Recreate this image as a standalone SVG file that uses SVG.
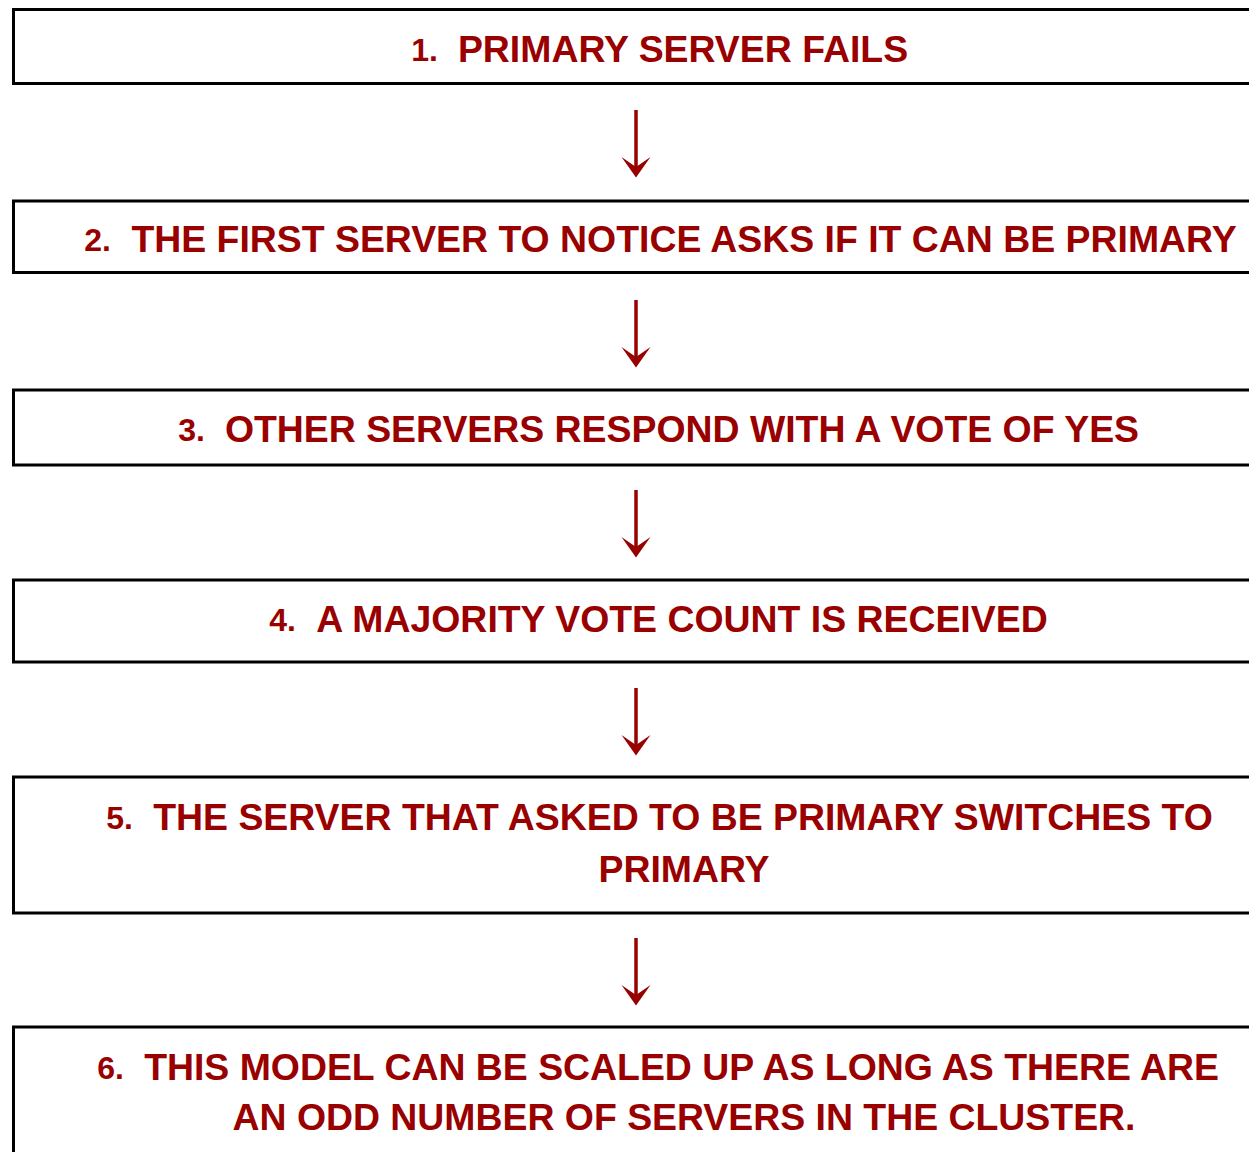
<svg xmlns="http://www.w3.org/2000/svg" width="1249" height="1152" viewBox="0 0 1249 1152">
  <style>
    .box { fill: #ffffff; stroke: #000000; stroke-width: 3; }
    .txt { font-family: "Liberation Sans", Arial, sans-serif; font-weight: bold; font-size: 37.4px; fill: #990000; text-anchor: middle; }
    .num { font-family: "Liberation Sans", Arial, sans-serif; font-weight: bold; font-size: 32px; fill: #990000; text-anchor: end; }
    .shaft { stroke: #990000; stroke-width: 3.5; fill: none; }
    .head { fill: #990000; }
  </style>
  <defs>
    <!-- downward arrow, origin at the top of the shaft -->
    <g id="arrowDown">
      <line class="shaft" x1="0" y1="0" x2="0" y2="62"/>
      <path class="head" d="M-14.5,47 L0,67.5 L14.5,47 L0,57 Z"/>
    </g>
  </defs>
  <rect width="1249" height="1152" fill="#ffffff"/>

  <g id="connectors">
    <use href="#arrowDown" x="636" y="110"/>
    <use href="#arrowDown" x="636" y="300"/>
    <use href="#arrowDown" x="636" y="490"/>
    <use href="#arrowDown" x="636" y="688"/>
    <use href="#arrowDown" x="636" y="938"/>
  </g>

  <g id="step1">
    <rect class="box" x="13.5" y="9.5" width="1260" height="74"/>
    <text class="num" x="438" y="61">1.</text>
    <text class="txt" x="683" y="62">PRIMARY SERVER FAILS</text>
  </g>

  <g id="step2">
    <rect class="box" x="13.5" y="201" width="1260" height="71.5"/>
    <text class="num" x="111" y="251">2.</text>
    <text class="txt" x="684" y="252">THE FIRST SERVER TO NOTICE ASKS IF IT CAN BE PRIMARY</text>
  </g>

  <g id="step3">
    <rect class="box" x="13.5" y="390" width="1260" height="75"/>
    <text class="num" x="205" y="441">3.</text>
    <text class="txt" x="682" y="442">OTHER SERVERS RESPOND WITH A VOTE OF YES</text>
  </g>

  <g id="step4">
    <rect class="box" x="13.5" y="580" width="1260" height="82"/>
    <text class="num" x="296" y="631">4.</text>
    <text class="txt" x="682" y="632">A MAJORITY VOTE COUNT IS RECEIVED</text>
  </g>

  <g id="step5">
    <rect class="box" x="13.5" y="777" width="1260" height="136"/>
    <text class="num" x="133" y="829">5.</text>
    <text class="txt" x="683" y="830">THE SERVER THAT ASKED TO BE PRIMARY SWITCHES TO</text>
    <text class="txt" x="684" y="882">PRIMARY</text>
  </g>

  <g id="step6">
    <rect class="box" x="13.5" y="1027" width="1260" height="140"/>
    <text class="num" x="124" y="1079">6.</text>
    <text class="txt" x="681.5" y="1080">THIS MODEL CAN BE SCALED UP AS LONG AS THERE ARE</text>
    <text class="txt" x="684" y="1130">AN ODD NUMBER OF SERVERS IN THE CLUSTER.</text>
  </g>
</svg>
